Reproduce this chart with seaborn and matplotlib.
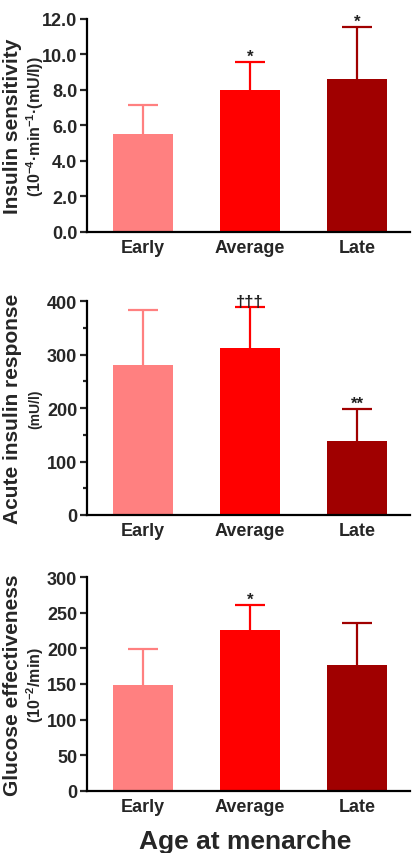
import matplotlib
matplotlib.use("Agg")
import matplotlib.pyplot as plt
import seaborn as sns
import numpy as np
from matplotlib.ticker import MultipleLocator

sns.set_style("ticks")
plt.rcParams['font.family'] = ['Liberation Sans', 'DejaVu Sans']
plt.rcParams['mathtext.fontset'] = 'custom'
plt.rcParams['mathtext.rm'] = 'Liberation Sans:bold'
plt.rcParams['mathtext.it'] = 'Liberation Sans:bold'
plt.rcParams['mathtext.bf'] = 'Liberation Sans:bold'

categories = ["Early", "Average", "Late"]
colors = ["#FF8080", "#FF0000", "#A00000"]

si_mean = [5.5, 8.0, 8.6]
si_sd = [1.65, 1.6, 2.95]
si_marks = ["", "*", "*"]

air_mean = [280, 312, 138]
air_sd = [104, 77, 61]
air_marks = ["", "†††", "**"]

sg_mean = [148, 226, 177]
sg_sd = [51, 35, 59]
sg_marks = ["", "*", ""]

panels = [
    dict(mean=si_mean, sd=si_sd, marks=si_marks, ylim=(0, 12), major=2.0, minor=None,
         fmt="{:.1f}", label="Insulin sensitivity",
         sub=r"(10$^{-4}$·min$^{-1}$·(mU/l))", subsize=11.5,
         box=(0.2086, 0.7272, 0.7744, 0.2494)),
    dict(mean=air_mean, sd=air_sd, marks=air_marks, ylim=(0, 400), major=100, minor=50,
         fmt="{:.0f}", label="Acute insulin response",
         sub="(mU/l)", subsize=10,
         box=(0.2086, 0.3958, 0.7744, 0.2502)),
    dict(mean=sg_mean, sd=sg_sd, marks=sg_marks, ylim=(0, 300), major=50, minor=None,
         fmt="{:.0f}", label="Glucose effectiveness",
         sub=r"(10$^{-2}$/min)", subsize=11.5,
         box=(0.2086, 0.0730, 0.7744, 0.2498)),
]

fig = plt.figure(figsize=(4.17, 8.54), dpi=100)

for p in panels:
    ax = fig.add_axes(p["box"])
    sns.barplot(x=categories, y=p["mean"], hue=categories, palette=colors,
                legend=False, width=0.56, saturation=1, ax=ax, errorbar=None,
                linewidth=0)
    for i, (m, s, c, mk) in enumerate(zip(p["mean"], p["sd"], colors, p["marks"])):
        eb = ax.errorbar(i, m + s / 2, yerr=s / 2, fmt="none", ecolor=c, elinewidth=1.6,
                         capsize=10.8, capthick=1.6, zorder=3)
        eb[1][0].set_visible(False)
        if mk:
            ax.annotate(mk, (i, m + s), xytext=(0, -1.5), textcoords="offset points",
                        ha="center", va="bottom", fontsize=12, fontweight="bold",
                        color="#222222")
    ax.set_xlim(-0.523, 2.495)
    ax.set_ylim(*p["ylim"])
    if p["minor"]:
        ax.yaxis.set_minor_locator(MultipleLocator(p["minor"]))
    ticks = np.arange(p["ylim"][0], p["ylim"][1] + p["major"] / 2, p["major"])
    ax.set_yticks(ticks)
    ax.set_yticklabels([p["fmt"].format(t) for t in ticks])
    sns.despine(ax=ax)
    for sp in ["left", "bottom"]:
        ax.spines[sp].set_linewidth(1.6)
        ax.spines[sp].set_color("black")
    ax.tick_params(axis="y", which="major", length=5, width=1.6, labelsize=13, pad=2)
    ax.tick_params(axis="y", which="minor", length=3, width=1.6)
    ax.tick_params(axis="x", length=0, labelsize=13, pad=5)
    for t in ax.get_yticklabels() + ax.get_xticklabels():
        t.set_fontweight("bold")
    ax.set_xlabel("")
    ax.set_ylabel("")
    b = p["box"]
    yc = b[1] + b[3] / 2
    fig.text(0.030, yc, p["label"], rotation=90, ha="center", va="center",
             fontsize=15, fontweight="bold")
    fig.text(0.084, yc, p["sub"], rotation=90, ha="center", va="center",
             fontsize=p["subsize"], fontweight="bold")

fig.text(0.587, 1 - 842 / 854, "Age at menarche", ha="center", va="center",
         fontsize=19, fontweight="bold")

fig.savefig("out.png", dpi=100)
